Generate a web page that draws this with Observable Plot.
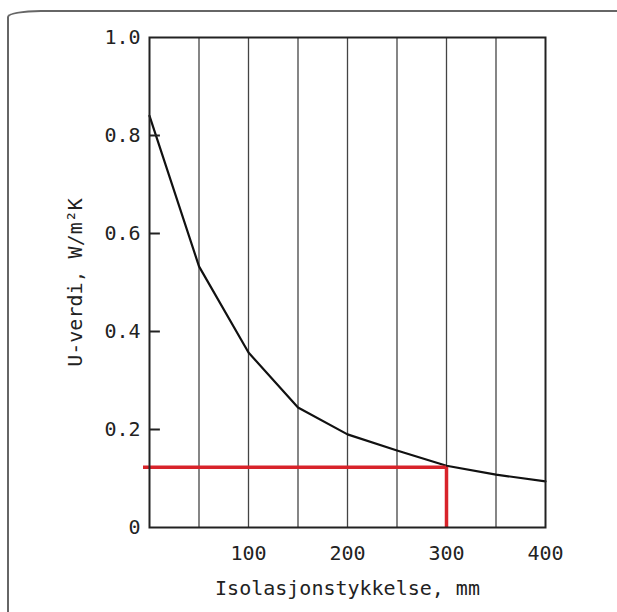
<!DOCTYPE html>
<html>
<head>
<meta charset="utf-8">
<script src="https://cdn.jsdelivr.net/npm/d3@7"></script>
<script src="https://cdn.jsdelivr.net/npm/@observablehq/plot@0.6"></script>
<style>
  html, body { margin: 0; padding: 0; background: #fff; overflow: hidden; }
  #wrap { position: relative; width: 617px; height: 612px; overflow: hidden; }
  #border { position: absolute; left: 7px; top: 10px; width: 800px; height: 800px;
    border-top: 2px solid #666; border-left: 2px solid #666; border-top-left-radius: 34px 7px; }
  #chart { position: absolute; left: 0; top: 0; }
</style>
</head>
<body>
<div id="wrap"><div id="border"></div><div id="chart"></div></div>
<script>
const thickness = [0, 50, 100, 150, 200, 250, 300, 350, 400];
const uValue = [0.84, 0.533, 0.357, 0.245, 0.19, 0.157, 0.126, 0.108, 0.094];
const gridX = [50, 100, 150, 200, 250, 300, 350];
const xTicks = [100, 200, 300, 400];
const yTicks = [0, 0.2, 0.4, 0.6, 0.8, 1.0];
const yTickLabels = ["0", "0.2", "0.4", "0.6", "0.8", "1.0"];
const markX = 300;
const markY = 0.123;

const data = thickness.map((t, i) => ({t, u: uValue[i]}));

const chart = Plot.plot({
  width: 617,
  height: 612,
  marginLeft: 149,
  marginRight: 72,
  marginTop: 37,
  marginBottom: 85,
  style: {fontFamily: "DejaVu Sans Mono", fontSize: "20px", color: "#222", background: "transparent"},
  x: {domain: [0, 400]},
  y: {domain: [0, 1]},
  marks: [
    Plot.ruleX(gridX, {stroke: "#444", strokeWidth: 1.3}),
    Plot.line(data, {x: "t", y: "u", stroke: "#111", strokeWidth: 2.2}),
    Plot.ruleY([markY], {x1: 0, x2: markX, insetLeft: -6, stroke: "#d8232a", strokeWidth: 3.5}),
    Plot.ruleX([markX], {y1: 0, y2: markY, stroke: "#d8232a", strokeWidth: 3.5}),
    Plot.ruleY(yTicks.slice(1, -1), {x1: 0, x2: 11, stroke: "#222", strokeWidth: 2}),
    Plot.frame({stroke: "#222", strokeWidth: 2}),
    Plot.axisY(yTicks, {
      tickSize: 0, tickPadding: 9,
      tickFormat: (d) => yTickLabels[yTicks.indexOf(d)],
      label: "U-verdi, W/m²K", labelAnchor: "center", labelOffset: 82, labelArrow: "none",
      fontSize: 20
    }),
    Plot.axisX(xTicks, {
      tickSize: 0, tickPadding: 18,
      label: "Isolasjonstykkelse, mm", labelAnchor: "center", labelOffset: 67, labelArrow: "none",
      fontSize: 20
    })
  ]
});
document.getElementById("chart").appendChild(chart);
</script>
</body>
</html>
